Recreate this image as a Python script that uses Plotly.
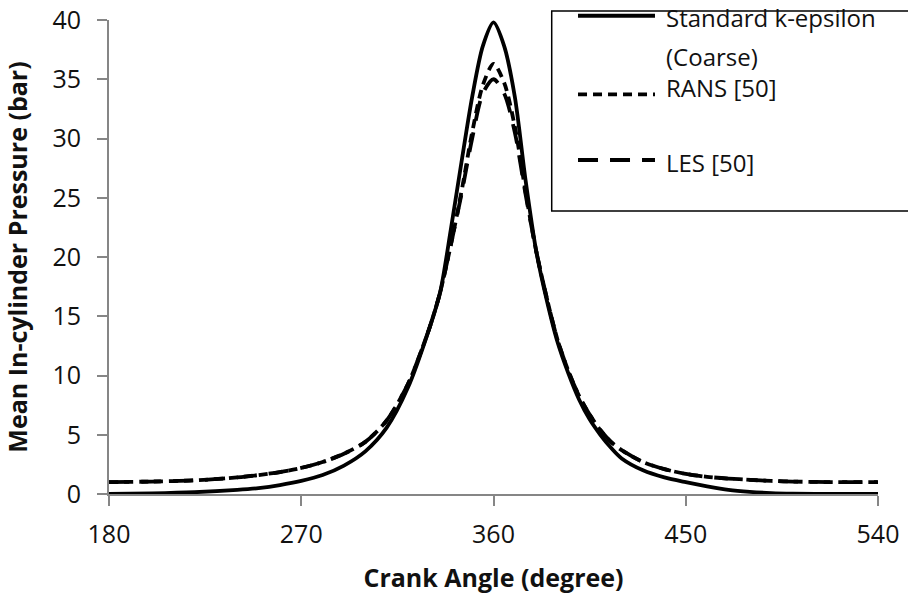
import plotly.graph_objects as go

# Crank angle (degree)
crank_angle = [180, 200, 220, 240, 250, 260, 270, 280, 290, 300, 310, 320, 330, 335, 340, 345,
               350, 355, 360, 365, 370, 375, 380, 385, 390, 395, 400, 405, 410, 415, 420, 430,
               440, 450, 460, 470, 480, 490, 500, 520, 540]

# Standard k-epsilon (Coarse)
p_keps = [0.0, 0.05, 0.15, 0.35, 0.5, 0.75, 1.1, 1.6, 2.4, 3.6, 5.6, 9.0, 14.0, 17.0, 22.3, 28.0,
          33.5, 37.8, 39.8, 37.8, 33.5, 26.5, 20.5, 16.3, 12.8, 10.2, 8.0, 6.3, 5.0, 3.9, 3.0, 2.0,
          1.4, 1.0, 0.65, 0.35, 0.18, 0.08, 0.03, 0.0, 0.0]

# RANS [50]
p_rans = [1.0, 1.05, 1.15, 1.4, 1.6, 1.85, 2.2, 2.7, 3.4, 4.4, 6.2, 9.3, 14.0, 17.0, 21.0, 25.5,
          30.5, 34.5, 36.3, 34.7, 31.0, 25.5, 20.5, 16.5, 13.0, 10.4, 8.3, 6.7, 5.4, 4.4, 3.7, 2.7,
          2.1, 1.7, 1.45, 1.3, 1.2, 1.1, 1.05, 1.0, 1.0]

# LES [50]
p_les = [1.0, 1.05, 1.15, 1.4, 1.6, 1.85, 2.2, 2.7, 3.4, 4.4, 6.2, 9.3, 14.0, 17.0, 21.0, 25.3,
         30.0, 33.8, 35.0, 33.8, 30.5, 25.3, 20.5, 16.5, 13.0, 10.4, 8.3, 6.7, 5.4, 4.4, 3.7, 2.7,
         2.1, 1.7, 1.45, 1.3, 1.2, 1.1, 1.05, 1.0, 1.0]

x_ticks = [180, 270, 360, 450, 540]
y_ticks = [0, 5, 10, 15, 20, 25, 30, 35, 40]

series_names = ["Standard k-epsilon", "RANS [50]", "LES [50]"]
series_dash = ["solid", "9px,6px", "20px,12px"]
series_vals = [p_keps, p_rans, p_les]

FONT = "'Open Sans', sans-serif"
TXT = "#111111"
AX = "#868686"

fig = go.Figure()
for name, dash, vals in zip(series_names, series_dash, series_vals):
    fig.add_trace(go.Scatter(
        x=crank_angle, y=vals, mode="lines", name=name,
        line=dict(color="black", width=3.8, dash=dash, shape="spline", smoothing=0.8),
        showlegend=False,
    ))

# manual legend (box, swatches, labels)
fig.add_shape(type="rect", xref="paper", yref="paper", x0=0.5757, x1=1.045, y0=0.597, y1=1.019,
              line=dict(color="black", width=1.5), fillcolor="white", layer="below")

leg_line_y = [1.009, 0.8432, 0.7046]
for dash, ly in zip(series_dash, leg_line_y):
    fig.add_shape(type="line", xref="paper", yref="paper", x0=0.6099, x1=0.710, y0=ly, y1=ly,
                  line=dict(color="black", width=3.8, dash=dash))

leg_texts = ["Standard k-epsilon", "(Coarse)", "RANS [50]", "LES [50]"]
leg_text_y = [1.006, 0.924, 0.858, 0.700]
for t, ty in zip(leg_texts, leg_text_y):
    fig.add_annotation(xref="paper", yref="paper", x=0.7217, y=ty, xanchor="left", yanchor="middle",
                       text=t, showarrow=False, align="left",
                       font=dict(family=FONT, size=24, color=TXT))

fig.update_layout(
    width=908, height=594,
    margin=dict(l=109, r=30, t=20, b=100),
    plot_bgcolor="white", paper_bgcolor="white",
    font=dict(family=FONT, size=25, color=TXT),
    xaxis=dict(
        range=[180, 540], tickvals=x_ticks, ticktext=[str(v) for v in x_ticks],
        showgrid=False, zeroline=False, showline=True, linecolor=AX, linewidth=2,
        ticks="outside", ticklen=10, tickcolor=AX, tickwidth=2, ticklabelstandoff=7,
        automargin=False,
        tickfont=dict(family=FONT, size=25, color=TXT),
        title=dict(text="<b>Crank Angle (degree)</b>", font=dict(family=FONT, size=25, color=TXT), standoff=22),
    ),
    yaxis=dict(
        range=[0, 40], tickvals=y_ticks,
        showgrid=False, zeroline=False, showline=True, linecolor=AX, linewidth=2,
        ticks="outside", ticklen=10, tickcolor=AX, tickwidth=2, ticklabelstandoff=11,
        automargin=False,
        tickfont=dict(family=FONT, size=25, color=TXT),
        title=dict(text="<b>Mean In-cylinder Pressure (bar)</b>", font=dict(family=FONT, size=25, color=TXT), standoff=18),
    ),
)

fig.write_html("out.html")
